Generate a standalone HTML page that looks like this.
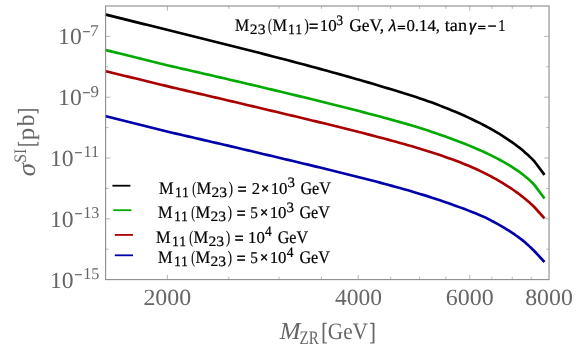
<!DOCTYPE html>
<html><head><meta charset="utf-8"><title>plot</title>
<style>html,body{margin:0;padding:0;background:#fff;}svg{display:block;}
text{white-space:pre;text-rendering:geometricPrecision;}
.t0{font-family:"Liberation Serif", serif;font-size:17.7px;fill:#000;stroke:#000;stroke-width:0.2px;}
.t1{font-family:"Liberation Serif", serif;font-size:14.3px;fill:#000;stroke:#000;stroke-width:0.2px;}
.t2{font-family:"Liberation Serif", serif;font-size:14.3px;fill:#000;stroke:#000;stroke-width:0.3px;}
.t3{font-family:"Liberation Serif", serif;font-size:17.7px;fill:#000;stroke:#000;stroke-width:0.6px;}
.t4{font-family:"Liberation Serif", serif;font-size:16.5px;fill:#000;stroke:#000;stroke-width:0.2px;}
.t5{font-family:"Liberation Sans", sans-serif;font-size:16px;fill:#000;font-style:italic;stroke:#000;stroke-width:0.25px;}
.t6{font-family:"Liberation Serif", serif;font-size:10.5px;fill:#000;stroke:#000;stroke-width:0.75px;}
.t7{font-family:"Liberation Sans", sans-serif;font-size:15.3px;fill:#000;font-style:italic;stroke:#000;stroke-width:0.5px;}
.t8{font-family:"Liberation Sans", sans-serif;font-size:14px;fill:#000;stroke:#000;stroke-width:0.45px;}
.t9{font-family:"Liberation Serif", serif;font-size:23.2px;fill:#666666;}
.t10{font-family:"Liberation Serif", serif;font-size:16.5px;fill:#666666;stroke:#666666;stroke-width:0.4px;}
.t11{font-family:"Liberation Serif", serif;font-size:16.5px;fill:#666666;}
.t12{font-family:"Liberation Serif", serif;font-size:24.5px;fill:#666666;font-style:italic;}
.t13{font-family:"Liberation Serif", serif;font-size:19px;fill:#666666;}
.t14{font-family:"Liberation Serif", serif;font-size:24.5px;fill:#666666;stroke:#666666;stroke-width:0.3px;}
.t15{font-family:"Liberation Serif", serif;font-size:23.5px;fill:#666666;}
.t16{font-family:"Liberation Serif", serif;font-size:26px;fill:#666666;font-style:italic;}
.t17{font-family:"Liberation Serif", serif;font-size:17.5px;fill:#666666;}
.t18{font-family:"Liberation Serif", serif;font-size:24.5px;fill:#666666;}
</style></head>
<body>
<svg width="577" height="350" viewBox="0 0 577 350" style="will-change:transform">
<rect x="0" y="0" width="577" height="350" fill="#ffffff"/>
<g fill="none" stroke-linejoin="round" stroke-linecap="butt">
<polyline points="105.10,116.09 108.00,116.81 112.00,117.81 116.00,118.80 120.00,119.80 124.00,120.79 128.00,121.79 132.00,122.78 136.00,123.78 140.00,124.77 144.00,125.76 148.00,126.75 152.00,127.74 156.00,128.74 160.00,129.73 164.00,130.72 168.00,131.71 172.00,132.67 176.00,133.59 180.00,134.52 184.00,135.45 188.00,136.37 192.00,137.30 196.00,138.23 200.00,139.16 204.00,140.09 208.00,141.01 212.00,141.94 216.00,142.87 220.00,143.80 224.00,144.73 228.00,145.66 232.00,146.60 236.00,147.54 240.00,148.49 244.00,149.43 248.00,150.38 252.00,151.33 256.00,152.27 260.00,153.22 264.00,154.17 268.00,155.12 272.00,156.07 276.00,157.02 280.00,157.97 284.00,158.92 288.00,159.87 292.00,160.83 296.00,161.78 300.00,162.74 304.00,163.70 308.00,164.66 312.00,165.63 316.00,166.59 320.00,167.56 324.00,168.53 328.00,169.50 332.00,170.48 336.00,171.46 340.00,172.45 344.00,173.43 348.00,174.43 352.00,175.42 356.00,176.43 360.00,177.43 364.00,178.46 368.00,179.49 372.00,180.53 376.00,181.58 380.00,182.64 384.00,183.71 388.00,184.78 392.00,185.87 396.00,186.97 400.00,188.08 404.00,189.21 408.00,190.35 412.00,191.51 416.00,192.70 420.00,193.90 424.00,195.13 428.00,196.38 432.00,197.65 436.00,198.95 440.00,200.27 444.00,201.63 448.00,203.02 452.00,204.45 456.00,205.91 460.00,207.38 464.00,208.86 468.00,210.38 472.00,211.96 476.00,213.58 480.00,215.22 481.50,215.85 483.00,216.50 484.50,217.15 486.00,217.82 487.50,218.59 489.00,219.39 490.50,220.20 492.00,221.00 493.50,221.78 495.00,222.58 496.50,223.39 498.00,224.21 499.50,225.06 501.00,225.91 502.50,226.79 504.00,227.68 505.50,228.59 507.00,229.53 508.50,230.47 510.00,231.43 511.50,232.40 513.00,233.40 514.50,234.42 516.00,235.47 517.50,236.54 519.00,237.64 520.50,238.77 522.00,239.92 523.50,241.11 525.00,242.34 526.50,243.65 528.00,244.99 529.50,246.37 531.00,247.78 532.50,249.23 534.50,251.25 544.50,261.98" stroke="#0000aa" stroke-width="2.65"/>
<polyline points="105.10,71.13 108.00,71.83 112.00,72.79 116.00,73.75 120.00,74.72 124.00,75.68 128.00,76.64 132.00,77.61 136.00,78.57 140.00,79.54 144.00,80.50 148.00,81.48 152.00,82.46 156.00,83.45 160.00,84.43 164.00,85.41 168.00,86.40 172.00,87.36 176.00,88.29 180.00,89.22 184.00,90.16 188.00,91.09 192.00,92.02 196.00,92.96 200.00,93.89 204.00,94.83 208.00,95.76 212.00,96.70 216.00,97.63 220.00,98.57 224.00,99.51 228.00,100.44 232.00,101.39 236.00,102.33 240.00,103.28 244.00,104.22 248.00,105.17 252.00,106.12 256.00,107.07 260.00,108.02 264.00,108.97 268.00,109.92 272.00,110.87 276.00,111.82 280.00,112.76 284.00,113.71 288.00,114.67 292.00,115.62 296.00,116.58 300.00,117.53 304.00,118.49 308.00,119.46 312.00,120.42 316.00,121.39 320.00,122.36 324.00,123.33 328.00,124.31 332.00,125.29 336.00,126.28 340.00,127.27 344.00,128.26 348.00,129.26 352.00,130.27 356.00,131.28 360.00,132.30 364.00,133.32 368.00,134.35 372.00,135.38 376.00,136.43 380.00,137.48 384.00,138.54 388.00,139.61 392.00,140.70 396.00,141.80 400.00,142.91 404.00,144.03 408.00,145.18 412.00,146.34 416.00,147.52 420.00,148.73 424.00,149.96 428.00,151.21 432.00,152.48 436.00,153.78 440.00,155.11 444.00,156.48 448.00,157.88 452.00,159.31 456.00,160.79 460.00,162.32 464.00,163.91 468.00,165.56 472.00,167.26 476.00,169.04 480.00,170.91 481.50,171.63 483.00,172.36 484.50,173.10 486.00,173.86 487.50,174.62 489.00,175.40 490.50,176.19 492.00,176.99 493.50,177.80 495.00,178.62 496.50,179.46 498.00,180.31 499.50,181.18 501.00,182.07 502.50,182.97 504.00,183.89 505.50,184.83 507.00,185.79 508.50,186.75 510.00,187.73 511.50,188.72 513.00,189.73 514.50,190.77 516.00,191.83 517.50,192.92 519.00,194.03 520.50,195.17 522.00,196.34 523.50,197.54 525.00,198.77 526.50,200.00 528.00,201.27 529.50,202.58 531.00,203.93 532.50,205.31 534.50,207.24 544.50,218.35" stroke="#aa0000" stroke-width="2.65"/>
<polyline points="105.10,49.93 108.00,50.64 112.00,51.62 116.00,52.60 120.00,53.58 124.00,54.56 128.00,55.54 132.00,56.52 136.00,57.50 140.00,58.48 144.00,59.47 148.00,60.46 152.00,61.46 156.00,62.45 160.00,63.44 164.00,64.44 168.00,65.43 172.00,66.38 176.00,67.29 180.00,68.21 184.00,69.12 188.00,70.03 192.00,70.95 196.00,71.87 200.00,72.78 204.00,73.70 208.00,74.62 212.00,75.54 216.00,76.46 220.00,77.38 224.00,78.31 228.00,79.23 232.00,80.17 236.00,81.11 240.00,82.05 244.00,82.99 248.00,83.94 252.00,84.88 256.00,85.83 260.00,86.78 264.00,87.73 268.00,88.68 272.00,89.63 276.00,90.59 280.00,91.54 284.00,92.50 288.00,93.46 292.00,94.42 296.00,95.39 300.00,96.36 304.00,97.33 308.00,98.31 312.00,99.29 316.00,100.27 320.00,101.26 324.00,102.25 328.00,103.25 332.00,104.25 336.00,105.25 340.00,106.25 344.00,107.25 348.00,108.26 352.00,109.28 356.00,110.31 360.00,111.34 364.00,112.37 368.00,113.42 372.00,114.47 376.00,115.53 380.00,116.59 384.00,117.67 388.00,118.76 392.00,119.86 396.00,120.97 400.00,122.10 404.00,123.24 408.00,124.39 412.00,125.57 416.00,126.78 420.00,128.01 424.00,129.30 428.00,130.60 432.00,131.92 436.00,133.27 440.00,134.64 444.00,136.04 448.00,137.47 452.00,138.92 456.00,140.41 460.00,141.94 464.00,143.51 468.00,145.11 472.00,146.77 476.00,148.47 480.00,150.21 481.50,150.88 483.00,151.56 484.50,152.25 486.00,152.94 487.50,153.65 489.00,154.37 490.50,155.10 492.00,155.84 493.50,156.59 495.00,157.35 496.50,158.13 498.00,158.92 499.50,159.73 501.00,160.53 502.50,161.35 504.00,162.18 505.50,163.04 507.00,163.91 508.50,164.80 510.00,165.72 511.50,166.66 513.00,167.62 514.50,168.60 516.00,169.62 517.50,170.64 519.00,171.69 520.50,172.77 522.00,173.88 523.50,175.04 525.00,176.23 526.50,177.48 528.00,178.77 529.50,180.12 531.00,181.52 532.50,182.99 534.50,185.13 544.50,198.50" stroke="#00aa00" stroke-width="2.65"/>
<polyline points="105.10,14.41 108.00,15.13 112.00,16.13 116.00,17.12 120.00,18.12 124.00,19.11 128.00,20.11 132.00,21.11 136.00,22.10 140.00,23.10 144.00,24.09 148.00,25.08 152.00,26.07 156.00,27.06 160.00,28.06 164.00,29.05 168.00,30.05 172.00,31.04 176.00,32.02 180.00,33.01 184.00,34.00 188.00,34.99 192.00,35.98 196.00,36.97 200.00,37.96 204.00,38.96 208.00,39.95 212.00,40.95 216.00,41.95 220.00,42.95 224.00,43.96 228.00,44.96 232.00,45.97 236.00,46.98 240.00,47.99 244.00,49.00 248.00,50.02 252.00,51.04 256.00,52.06 260.00,53.08 264.00,54.11 268.00,55.14 272.00,56.17 276.00,57.21 280.00,58.25 284.00,59.29 288.00,60.34 292.00,61.39 296.00,62.45 300.00,63.50 304.00,64.57 308.00,65.64 312.00,66.71 316.00,67.79 320.00,68.87 324.00,69.96 328.00,71.06 332.00,72.16 336.00,73.27 340.00,74.38 344.00,75.51 348.00,76.64 352.00,77.77 356.00,78.92 360.00,80.08 364.00,81.23 368.00,82.39 372.00,83.57 376.00,84.75 380.00,85.94 384.00,87.15 388.00,88.37 392.00,89.57 396.00,90.77 400.00,91.98 404.00,93.20 408.00,94.44 412.00,95.73 416.00,97.05 420.00,98.39 424.00,99.76 428.00,101.15 432.00,102.59 436.00,104.10 440.00,105.63 444.00,107.19 448.00,108.79 452.00,110.42 456.00,112.09 460.00,113.81 464.00,115.58 468.00,117.40 472.00,119.27 476.00,121.20 480.00,123.18 481.50,123.94 483.00,124.71 484.50,125.49 486.00,126.29 487.50,127.09 489.00,127.91 490.50,128.73 492.00,129.57 493.50,130.42 495.00,131.29 496.50,132.17 498.00,133.07 499.50,133.98 501.00,134.90 502.50,135.85 504.00,136.81 505.50,137.79 507.00,138.79 508.50,139.80 510.00,140.81 511.50,141.84 513.00,142.89 514.50,143.98 516.00,145.08 517.50,146.22 519.00,147.39 520.50,148.58 522.00,149.82 523.50,151.09 525.00,152.38 526.50,153.68 528.00,155.02 529.50,156.42 531.00,157.86 532.50,159.36 534.50,161.52 544.50,174.83" stroke="#000000" stroke-width="2.65"/>
</g>
<path d="M167.40 279.6 v-4.8 M167.40 6.0 v4.8 M228.82 279.6 v-2.9 M228.82 6.0 v2.9 M279.01 279.6 v-2.9 M279.01 6.0 v2.9 M321.44 279.6 v-2.9 M321.44 6.0 v2.9 M358.20 279.6 v-4.8 M358.20 6.0 v4.8 M390.62 279.6 v-2.9 M390.62 6.0 v2.9 M419.62 279.6 v-2.9 M419.62 6.0 v2.9 M445.86 279.6 v-2.9 M445.86 6.0 v2.9 M469.81 279.6 v-4.8 M469.81 6.0 v4.8 M491.84 279.6 v-2.9 M491.84 6.0 v2.9 M512.24 279.6 v-2.9 M512.24 6.0 v2.9 M531.23 279.6 v-2.9 M531.23 6.0 v2.9 M105.6 249.20 h2.9 M549.05 249.20 h-2.9 M105.6 218.80 h4.8 M549.05 218.80 h-4.8 M105.6 188.40 h2.9 M549.05 188.40 h-2.9 M105.6 158.00 h4.8 M549.05 158.00 h-4.8 M105.6 127.60 h2.9 M549.05 127.60 h-2.9 M105.6 97.20 h4.8 M549.05 97.20 h-4.8 M105.6 66.80 h2.9 M549.05 66.80 h-2.9 M105.6 36.40 h4.8 M549.05 36.40 h-4.8" stroke="#9a9a9a" stroke-width="0.7" fill="none"/>
<rect x="105.6" y="6.0" width="443.45" height="273.60" fill="none" stroke="#8c8c8c" stroke-width="1.1"/>
<line x1="112.4" y1="185.7" x2="130.4" y2="185.7" stroke="#000000" stroke-width="1.8"/>
<line x1="113.3" y1="210.2" x2="131.4" y2="210.2" stroke="#00aa00" stroke-width="1.8"/>
<line x1="114.8" y1="234.9" x2="132.9" y2="234.9" stroke="#aa0000" stroke-width="1.8"/>
<line x1="114.8" y1="255.3" x2="133.0" y2="255.3" stroke="#0000aa" stroke-width="1.8"/>
<g><text class="t0" x="235.00" y="30.50" textLength="14.19" lengthAdjust="spacingAndGlyphs">M</text>
<text class="t1" x="249.85" y="33.80" textLength="15.57" lengthAdjust="spacingAndGlyphs">23</text>
<text class="t0" x="268.05" y="30.50" textLength="3.78" lengthAdjust="spacingAndGlyphs">(</text>
<text class="t0" x="272.40" y="30.50" textLength="14.55" lengthAdjust="spacingAndGlyphs">M</text>
<text class="t2" x="288.30" y="33.80" textLength="6.45" lengthAdjust="spacingAndGlyphs">1</text>
<text class="t2" x="295.40" y="33.80" textLength="6.45" lengthAdjust="spacingAndGlyphs">1</text>
<text class="t0" x="304.45" y="30.50" textLength="4.24" lengthAdjust="spacingAndGlyphs">)</text>
<text class="t3" x="309.05" y="31.50" textLength="9.21" lengthAdjust="spacingAndGlyphs">=</text>
<text class="t4" x="319.75" y="30.50" textLength="16.89" lengthAdjust="spacingAndGlyphs">10</text>
<text class="t1" x="336.30" y="24.50" textLength="6.87" lengthAdjust="spacingAndGlyphs">3</text>
<text class="t0" x="349.20" y="30.50" textLength="35.02" lengthAdjust="spacingAndGlyphs">GeV,</text>
<text class="t5" x="388.80" y="30.50" textLength="7.64" lengthAdjust="spacingAndGlyphs">λ</text>
<text class="t6" x="397.40" y="30.50" textLength="7.80" lengthAdjust="spacingAndGlyphs">=</text>
<text class="t4" x="406.40" y="30.50" textLength="33.62" lengthAdjust="spacingAndGlyphs">0.14,</text>
<text class="t0" x="444.80" y="30.50" textLength="22.16" lengthAdjust="spacingAndGlyphs">tan</text>
<text class="t7" x="469.00" y="30.50" textLength="6.92" lengthAdjust="spacingAndGlyphs">γ</text>
<text class="t6" x="478.10" y="30.50" textLength="7.66" lengthAdjust="spacingAndGlyphs">=</text>
<text class="t3" x="487.70" y="31.50" textLength="8.77" lengthAdjust="spacingAndGlyphs">−</text>
<text class="t4" x="498.20" y="30.50" textLength="7.20" lengthAdjust="spacingAndGlyphs">1</text>
<text class="t0" x="159.00" y="193.60" textLength="14.55" lengthAdjust="spacingAndGlyphs">M</text>
<text class="t2" x="175.20" y="196.80" textLength="6.45" lengthAdjust="spacingAndGlyphs">1</text>
<text class="t2" x="182.30" y="196.80" textLength="6.45" lengthAdjust="spacingAndGlyphs">1</text>
<text class="t0" x="192.25" y="193.60" textLength="3.72" lengthAdjust="spacingAndGlyphs">(</text>
<text class="t0" x="196.45" y="193.60" textLength="14.76" lengthAdjust="spacingAndGlyphs">M</text>
<text class="t1" x="211.45" y="196.80" textLength="15.57" lengthAdjust="spacingAndGlyphs">23</text>
<text class="t0" x="228.85" y="193.60" textLength="4.19" lengthAdjust="spacingAndGlyphs">)</text>
<text class="t3" x="237.70" y="194.60" textLength="8.77" lengthAdjust="spacingAndGlyphs">=</text>
<text class="t4" x="251.70" y="193.60" textLength="8.25" lengthAdjust="spacingAndGlyphs">2</text>
<text class="t8" x="261.30" y="192.60" textLength="7.72" lengthAdjust="spacingAndGlyphs">×</text>
<text class="t4" x="270.65" y="193.60" textLength="16.84" lengthAdjust="spacingAndGlyphs">10</text>
<text class="t1" x="287.40" y="187.40" textLength="7.44" lengthAdjust="spacingAndGlyphs">3</text>
<text class="t0" x="300.40" y="193.60" textLength="30.47" lengthAdjust="spacingAndGlyphs">GeV</text>
<text class="t0" x="158.00" y="217.80" textLength="14.55" lengthAdjust="spacingAndGlyphs">M</text>
<text class="t2" x="174.20" y="221.00" textLength="6.45" lengthAdjust="spacingAndGlyphs">1</text>
<text class="t2" x="181.30" y="221.00" textLength="6.45" lengthAdjust="spacingAndGlyphs">1</text>
<text class="t0" x="191.25" y="217.80" textLength="3.72" lengthAdjust="spacingAndGlyphs">(</text>
<text class="t0" x="195.45" y="217.80" textLength="14.76" lengthAdjust="spacingAndGlyphs">M</text>
<text class="t1" x="210.45" y="221.00" textLength="15.57" lengthAdjust="spacingAndGlyphs">23</text>
<text class="t0" x="227.85" y="217.80" textLength="4.19" lengthAdjust="spacingAndGlyphs">)</text>
<text class="t3" x="236.70" y="218.80" textLength="8.77" lengthAdjust="spacingAndGlyphs">=</text>
<text class="t4" x="250.15" y="217.80" textLength="7.61" lengthAdjust="spacingAndGlyphs">5</text>
<text class="t8" x="260.30" y="216.80" textLength="7.72" lengthAdjust="spacingAndGlyphs">×</text>
<text class="t4" x="269.65" y="217.80" textLength="16.84" lengthAdjust="spacingAndGlyphs">10</text>
<text class="t1" x="286.40" y="211.60" textLength="7.44" lengthAdjust="spacingAndGlyphs">3</text>
<text class="t0" x="299.40" y="217.80" textLength="30.47" lengthAdjust="spacingAndGlyphs">GeV</text>
<text class="t0" x="156.10" y="242.50" textLength="14.55" lengthAdjust="spacingAndGlyphs">M</text>
<text class="t2" x="172.30" y="245.70" textLength="6.45" lengthAdjust="spacingAndGlyphs">1</text>
<text class="t2" x="179.40" y="245.70" textLength="6.45" lengthAdjust="spacingAndGlyphs">1</text>
<text class="t0" x="189.35" y="242.50" textLength="3.72" lengthAdjust="spacingAndGlyphs">(</text>
<text class="t0" x="193.55" y="242.50" textLength="14.76" lengthAdjust="spacingAndGlyphs">M</text>
<text class="t1" x="208.55" y="245.70" textLength="15.57" lengthAdjust="spacingAndGlyphs">23</text>
<text class="t0" x="225.95" y="242.50" textLength="4.19" lengthAdjust="spacingAndGlyphs">)</text>
<text class="t3" x="234.80" y="243.50" textLength="8.77" lengthAdjust="spacingAndGlyphs">=</text>
<text class="t4" x="248.05" y="242.50" textLength="16.73" lengthAdjust="spacingAndGlyphs">10</text>
<text class="t1" x="265.00" y="236.30" textLength="6.72" lengthAdjust="spacingAndGlyphs">4</text>
<text class="t0" x="277.70" y="242.50" textLength="30.27" lengthAdjust="spacingAndGlyphs">GeV</text>
<text class="t0" x="158.00" y="262.80" textLength="14.55" lengthAdjust="spacingAndGlyphs">M</text>
<text class="t2" x="174.20" y="266.00" textLength="6.45" lengthAdjust="spacingAndGlyphs">1</text>
<text class="t2" x="181.30" y="266.00" textLength="6.45" lengthAdjust="spacingAndGlyphs">1</text>
<text class="t0" x="191.25" y="262.80" textLength="3.72" lengthAdjust="spacingAndGlyphs">(</text>
<text class="t0" x="195.45" y="262.80" textLength="14.76" lengthAdjust="spacingAndGlyphs">M</text>
<text class="t1" x="210.45" y="266.00" textLength="15.57" lengthAdjust="spacingAndGlyphs">23</text>
<text class="t0" x="227.85" y="262.80" textLength="4.19" lengthAdjust="spacingAndGlyphs">)</text>
<text class="t3" x="236.70" y="263.80" textLength="8.77" lengthAdjust="spacingAndGlyphs">=</text>
<text class="t4" x="250.15" y="262.80" textLength="7.61" lengthAdjust="spacingAndGlyphs">5</text>
<text class="t8" x="260.30" y="261.80" textLength="7.72" lengthAdjust="spacingAndGlyphs">×</text>
<text class="t4" x="269.65" y="262.80" textLength="16.84" lengthAdjust="spacingAndGlyphs">10</text>
<text class="t1" x="286.70" y="256.60" textLength="6.77" lengthAdjust="spacingAndGlyphs">4</text>
<text class="t0" x="299.40" y="262.80" textLength="30.47" lengthAdjust="spacingAndGlyphs">GeV</text>
<text class="t9" x="143.40" y="305.00" textLength="47.93" lengthAdjust="spacingAndGlyphs">2000</text>
<text class="t9" x="334.95" y="305.00" textLength="47.14" lengthAdjust="spacingAndGlyphs">4000</text>
<text class="t9" x="445.81" y="305.00" textLength="47.93" lengthAdjust="spacingAndGlyphs">6000</text>
<text class="t9" x="525.15" y="305.00" textLength="47.66" lengthAdjust="spacingAndGlyphs">8000</text>
<text class="t9" x="58.10" y="44.30" textLength="23.64" lengthAdjust="spacingAndGlyphs">10</text>
<text class="t10" x="82.60" y="36.70" textLength="7.85" lengthAdjust="spacingAndGlyphs">−</text>
<text class="t11" x="89.90" y="35.70" textLength="8.80" lengthAdjust="spacingAndGlyphs">7</text>
<text class="t9" x="58.10" y="105.10" textLength="23.64" lengthAdjust="spacingAndGlyphs">10</text>
<text class="t10" x="82.60" y="97.50" textLength="7.85" lengthAdjust="spacingAndGlyphs">−</text>
<text class="t11" x="90.40" y="96.50" textLength="8.48" lengthAdjust="spacingAndGlyphs">9</text>
<text class="t9" x="50.00" y="165.90" textLength="23.64" lengthAdjust="spacingAndGlyphs">10</text>
<text class="t10" x="74.60" y="158.30" textLength="7.85" lengthAdjust="spacingAndGlyphs">−</text>
<text class="t11" x="83.55" y="157.30" textLength="15.55" lengthAdjust="spacingAndGlyphs">11</text>
<text class="t9" x="50.00" y="226.70" textLength="23.64" lengthAdjust="spacingAndGlyphs">10</text>
<text class="t10" x="74.60" y="219.10" textLength="7.85" lengthAdjust="spacingAndGlyphs">−</text>
<text class="t11" x="83.25" y="218.10" textLength="16.11" lengthAdjust="spacingAndGlyphs">13</text>
<text class="t9" x="50.00" y="287.50" textLength="23.64" lengthAdjust="spacingAndGlyphs">10</text>
<text class="t10" x="74.60" y="279.90" textLength="7.85" lengthAdjust="spacingAndGlyphs">−</text>
<text class="t11" x="83.25" y="278.90" textLength="16.11" lengthAdjust="spacingAndGlyphs">15</text>
<text class="t12" x="279.75" y="339.40" textLength="20.80" lengthAdjust="spacingAndGlyphs">M</text>
<text class="t13" x="299.50" y="343.90" textLength="19.22" lengthAdjust="spacingAndGlyphs">ZR</text>
<text class="t14" x="321.60" y="340.00" textLength="5.86" lengthAdjust="spacingAndGlyphs">[</text>
<text class="t15" x="327.85" y="339.40" textLength="40.09" lengthAdjust="spacingAndGlyphs">GeV</text>
<text class="t14" x="369.50" y="340.00" textLength="6.13" lengthAdjust="spacingAndGlyphs">]</text></g>
<g transform="translate(34.4,175.6) rotate(-90)"><text class="t16" x="-0.55" y="0.40" textLength="13.18" lengthAdjust="spacingAndGlyphs">σ</text>
<text class="t17" x="12.80" y="-8.10" textLength="13.90" lengthAdjust="spacingAndGlyphs">SI</text>
<text class="t14" x="28.95" y="0.60" textLength="5.39" lengthAdjust="spacingAndGlyphs">[</text>
<text class="t18" x="35.25" y="0.00" textLength="12.47" lengthAdjust="spacingAndGlyphs">p</text>
<text class="t18" x="49.30" y="0.00" textLength="11.72" lengthAdjust="spacingAndGlyphs">b</text>
<text class="t14" x="61.60" y="0.60" textLength="6.00" lengthAdjust="spacingAndGlyphs">]</text></g>
</svg>
</body></html>
